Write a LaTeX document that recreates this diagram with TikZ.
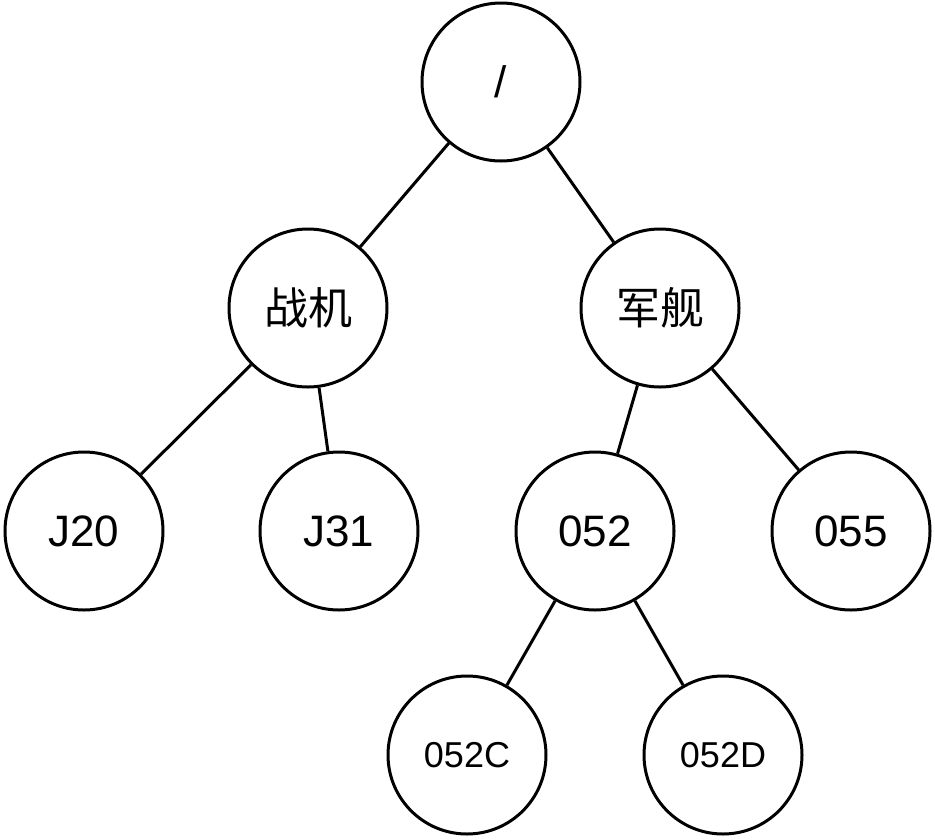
\documentclass[tikz,border=0pt]{standalone}
\usepackage{fontspec}
\setmainfont{Liberation Sans}
\newfontfamily\cjk{Noto Sans CJK SC}
\usepackage{tikz}
\usetikzlibrary{shapes,positioning}
\tikzset{
treenode/.style = {align=center, inner sep=0pt, text centered,
circle, draw=black, line width=3pt, minimum size=158pt},
dir_n/.style = {treenode, font=\fontsize{44}{44}\selectfont},% dossier, texte latin
dir_c/.style = {treenode, font=\cjk\fontsize{44}{44}\selectfont},% dossier, texte chinois
leaf_s/.style = {treenode, font=\fontsize{36}{36}\selectfont},% feuille, petit texte
branch/.style = {draw=black, line width=3pt}
}
\begin{document}
\begin{tikzpicture}[x=1pt, y=-1pt]
	\useasboundingbox (0,0) rectangle (935,839);
	\node [dir_n] (root) at (501,82) {/};
	\node [dir_c] (fighter) at (308,308) {战机};
	\node [dir_c] (warship) at (660,308) {军舰};
	\node [dir_n] (j20) at (84,531) {J20};
	\node [dir_n] (j31) at (339,531) {J31};
	\node [dir_n] (t052) at (595,531) {052};
	\node [dir_n] (t055) at (851,531) {055};
	\node [leaf_s] (t052c) at (467,755) {052C};
	\node [leaf_s] (t052d) at (723,755) {052D};
	\draw [branch] (root) -- (fighter);
	\draw [branch] (root) -- (warship);
	\draw [branch] (fighter) -- (j20);
	\draw [branch] (fighter) -- (j31);
	\draw [branch] (warship) -- (t052);
	\draw [branch] (warship) -- (t055);
	\draw [branch] (t052) -- (t052c);
	\draw [branch] (t052) -- (t052d);
\end{tikzpicture}
\end{document}
